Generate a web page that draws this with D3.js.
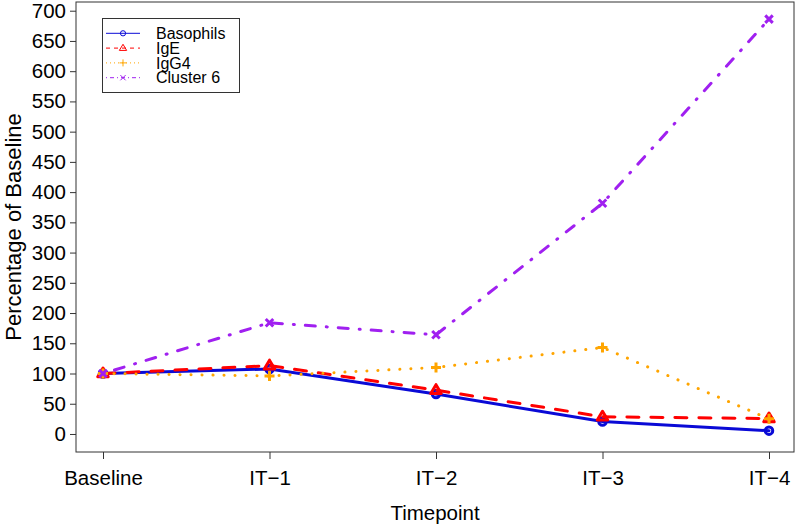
<!DOCTYPE html>
<html><head><meta charset="utf-8">
<script src="https://cdn.jsdelivr.net/npm/d3@7"></script>
<style>body{margin:0;background:#fff}svg{display:block}text{font-family:"Liberation Sans",Arial,sans-serif;fill:#000}</style>
</head><body><svg id="c" width="796" height="526"></svg>
<script>
const categories = ["Baseline","IT\u22121","IT\u22122","IT\u22123","IT\u22124"];
const basophils = [100, 107.5, 66, 20.5, 5.5];
const ige = [100, 113, 72.5, 28.5, 25.5];
const igg4 = [100, 96, 110, 143, 25];
const cluster6 = [100, 184, 164, 381.5, 686];
const yTicks = [0,50,100,150,200,250,300,350,400,450,500,550,600,650,700];
const seriesNames = ["Basophils","IgE","IgG4","Cluster 6"];

const series = [
  {name:seriesNames[0], values:basophils, color:"#0a0ad6", dash:null, ldash:null, shape:"circle"},
  {name:seriesNames[1], values:ige, color:"#ff0000", dash:"12,12", ldash:"4,4", shape:"triangle"},
  {name:seriesNames[2], values:igg4, color:"#ffa500", dash:"0.1,10.9", ldash:"1,3", shape:"plus"},
  {name:seriesNames[3], values:cluster6, color:"#a020f0", dash:"1,11,10,11", ldash:"1,3,4,3", shape:"cross"}
];

const svg = d3.select("#c");
const L=76, R=794, T=2, B=452;
const x = d3.scalePoint().domain(categories).range([103, 769]);
const y = d3.scaleLinear().domain([-29.8, 714.4]).range([B, T]);

const xAxis = svg.append("g").attr("transform",`translate(0,${B})`)
  .call(d3.axisBottom(x).tickSize(7).tickPadding(11).tickSizeOuter(0));
const yAxis = svg.append("g").attr("transform",`translate(${L},0)`)
  .call(d3.axisLeft(y).tickValues(yTicks).tickSize(6).tickPadding(4).tickSizeOuter(0));
[xAxis,yAxis].forEach(g=>{
  g.select(".domain").remove();
  g.selectAll("line").attr("stroke","#333");
  g.selectAll("text").style("font-family","'Liberation Sans',Arial,sans-serif").style("font-size","20.5px").attr("fill","#000");
});

svg.append("rect").attr("x",L).attr("y",T).attr("width",R-L).attr("height",B-T)
  .attr("fill","none").attr("stroke","#333").attr("stroke-width",1);

svg.append("text").attr("x",(L+R)/2).attr("y",520).attr("text-anchor","middle").style("font-size","20.5px").text("Timepoint");
svg.append("text").attr("transform",`translate(21,${(T+B)/2}) rotate(-90)`).attr("text-anchor","middle").style("font-size","22px").text("Percentage of Baseline");

function marker(g, shape, cx, cy, s, color, sw){
  if(shape==="circle"){
    g.append("circle").attr("cx",cx).attr("cy",cy).attr("r",s*0.75).attr("fill","none").attr("stroke",color).attr("stroke-width",sw);
  } else if(shape==="triangle"){
    const h=s*1.1;
    g.append("path").attr("d",`M${cx},${cy-h}L${cx+h*0.95},${cy+h*0.6}L${cx-h*0.95},${cy+h*0.6}Z`).attr("fill","none").attr("stroke",color).attr("stroke-width",sw).attr("stroke-linejoin","round");
  } else if(shape==="plus"){
    g.append("path").attr("d",`M${cx-s},${cy}H${cx+s}M${cx},${cy-s}V${cy+s}`).attr("stroke",color).attr("stroke-width",sw);
  } else {
    const d=s*0.75;
    g.append("path").attr("d",`M${cx-d},${cy-d}L${cx+d},${cy+d}M${cx-d},${cy+d}L${cx+d},${cy-d}`).attr("stroke",color).attr("stroke-width",sw);
  }
}

const line = d3.line().x((d,i)=>x(categories[i])).y(d=>y(d));
const plot = svg.append("g");
series.forEach(s=>{
  plot.append("path").datum(s.values).attr("d",line).attr("fill","none")
    .attr("stroke",s.color).attr("stroke-width",3).attr("stroke-linecap","round")
    .attr("stroke-dasharray",s.dash);
  s.values.forEach((v,i)=>marker(plot,s.shape,x(categories[i]),y(v),5,s.color,3));
});

const lg = svg.append("g");
lg.append("rect").attr("x",102.5).attr("y",18.5).attr("width",137).attr("height",74)
  .attr("fill","#fff").attr("stroke","#333").attr("stroke-width",1);
series.forEach((s,i)=>{
  const cy = 33.3 + i*14.8;
  lg.append("line").attr("x1",106).attr("x2",140).attr("y1",cy).attr("y2",cy)
    .attr("stroke",s.color).attr("stroke-width",1).attr("stroke-dasharray",s.ldash);
  marker(lg,s.shape,123,cy,3.5,s.color,1);
  lg.append("text").attr("x",156).attr("y",cy).attr("dy","0.36em").style("font-size","16px").text(s.name);
});
</script></body></html>
